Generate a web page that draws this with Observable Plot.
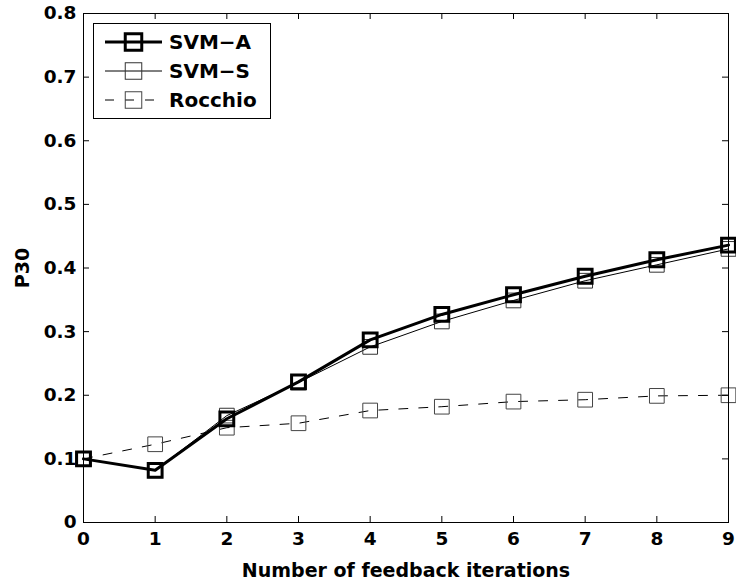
<!DOCTYPE html>
<html>
<head>
<meta charset="utf-8">
<script src="https://cdn.jsdelivr.net/npm/d3@7"></script>
<script src="https://cdn.jsdelivr.net/npm/@observablehq/plot@0.6"></script>
<style>
  html, body { margin: 0; padding: 0; background: white; }
  #chart svg text { font-family: 'DejaVu Sans', 'Liberation Sans', sans-serif !important; font-weight: bold !important; }
  #chart g[aria-label="x-axis tick label"] text,
  #chart g[aria-label="y-axis tick label"] text { font-size: 18.5px !important; }
  #chart g[aria-label="x-axis label"] text,
  #chart g[aria-label="y-axis label"] text { font-size: 19px !important; }
  #chart g.legend text { font-size: 20px !important; text-anchor: start; }
</style>
</head>
<body>
<div id="chart"></div>
<script>
const iterations = [0, 1, 2, 3, 4, 5, 6, 7, 8, 9];
const svmA    = [0.100, 0.082, 0.163, 0.221, 0.287, 0.327, 0.358, 0.387, 0.413, 0.436];
const svmS    = [0.100, 0.082, 0.168, 0.220, 0.276, 0.316, 0.349, 0.380, 0.405, 0.430];
const rocchio = [0.100, 0.123, 0.149, 0.156, 0.176, 0.182, 0.190, 0.193, 0.199, 0.200];
const seriesNames = ["SVM-A", "SVM-S", "Rocchio"];
const xTicks = [0, 1, 2, 3, 4, 5, 6, 7, 8, 9];
const yTicks = [0, 0.1, 0.2, 0.3, 0.4, 0.5, 0.6, 0.7, 0.8];

const styles = {
  "SVM-A":   {strokeWidth: 3, dash: null, marker: "#000", markerWidth: 3, r: 7.8},
  "SVM-S":   {strokeWidth: 1, dash: null, marker: "#333", markerWidth: 1, r: 8.3},
  "Rocchio": {strokeWidth: 1, dash: "9,11", marker: "#444", markerWidth: 1, r: 8.3}
};
const values = {"SVM-A": svmA, "SVM-S": svmS, "Rocchio": rocchio};
const rows = name => iterations.map((x, i) => ({x, y: values[name][i], s: name}));

const W = 736, H = 586, mL = 83, mR = 8, mT = 13, mB = 64;
const pw = W - mL - mR, ph = H - mT - mB;
const font = "'DejaVu Sans', 'Liberation Sans', sans-serif";

const seriesMarks = [];
for (const name of ["Rocchio", "SVM-S", "SVM-A"]) {
  const st = styles[name];
  seriesMarks.push(Plot.line(rows(name), {x: "x", y: "y", stroke: "black", strokeWidth: st.strokeWidth, strokeDasharray: st.dash}));
  seriesMarks.push(Plot.dot(rows(name), {x: "x", y: "y", symbol: "square", r: st.r, fill: "none", stroke: st.marker, strokeWidth: st.markerWidth}));
}

const svg = Plot.plot({
  width: W, height: H,
  marginLeft: mL, marginRight: mR, marginTop: mT, marginBottom: mB,
  x: {domain: [0, 9]},
  y: {domain: [0, 0.8]},
  style: {fontFamily: font, fontSize: "18px", fontWeight: "bold", color: "black", background: "white"},
  marks: [
    Plot.tickX(xTicks, {x: d => d, insetTop: ph - 6, stroke: "black"}),
    Plot.tickX(xTicks, {x: d => d, insetBottom: ph - 6, stroke: "black"}),
    Plot.tickY(yTicks, {y: d => d, insetRight: pw - 6, stroke: "black"}),
    Plot.tickY(yTicks, {y: d => d, insetLeft: pw - 6, stroke: "black"}),
    Plot.axisX(xTicks, {tickSize: 0, tickPadding: 9, fontSize: 18, fontWeight: "bold",
      label: "Number of feedback iterations", labelAnchor: "center", labelOffset: 54, labelArrow: "none"}),
    Plot.axisY(yTicks, {tickSize: 0, tickPadding: 7, fontSize: 18, fontWeight: "bold",
      tickFormat: d => d === 0 ? "0" : d.toFixed(1),
      label: "P30", labelAnchor: "center", labelOffset: 68, labelArrow: "none"}),
    ...seriesMarks,
    Plot.frame({stroke: "black", strokeWidth: 1})
  ]
});

// Legend
const g = d3.select(svg).append("g").attr("class", "legend")
  .attr("font-family", font).attr("font-size", 20).attr("font-weight", "bold").attr("text-anchor", "start");
g.append("rect").attr("x", 93.5).attr("y", 23.5).attr("width", 177).attr("height", 95)
  .attr("fill", "white").attr("stroke", "black").attr("stroke-width", 1);
seriesNames.forEach((name, i) => {
  const st = styles[name];
  const cy = 42 + i * 29;
  g.append("line").attr("x1", 105).attr("x2", 162).attr("y1", cy).attr("y2", cy)
    .attr("stroke", "black").attr("stroke-width", st.strokeWidth)
    .attr("stroke-dasharray", st.dash ? "9,11" : null);
  const side = 16.5;
  g.append("rect").attr("x", 133.5 - side / 2).attr("y", cy - side / 2).attr("width", side).attr("height", side)
    .attr("fill", "none").attr("stroke", st.marker).attr("stroke-width", st.markerWidth);
  g.append("text").attr("x", 169).attr("y", cy).attr("dy", "0.36em").attr("text-anchor", "start")
    .text(name.replace("-", "\u2212"));
});

document.getElementById("chart").appendChild(svg);
</script>
</body>
</html>
